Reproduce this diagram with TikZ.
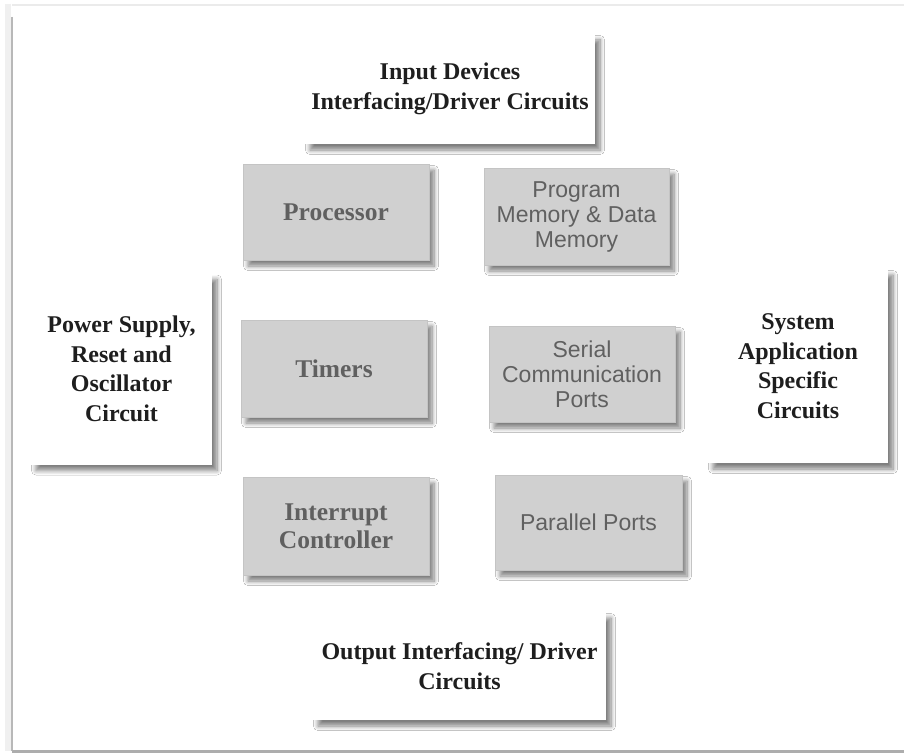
\documentclass[tikz,border=0pt]{standalone}
\usepackage{fontspec}
\setmainfont{Liberation Serif}
\setsansfont{Liberation Sans}
\usetikzlibrary{shadows.blur}
\definecolor{boxgray}{HTML}{D0D0D0}
\definecolor{txtgray}{HTML}{606060}
\definecolor{txtblack}{HTML}{1E1E1E}
\tikzset{
  shad/.style={blur shadow={shadow xshift=5pt,shadow yshift=-6pt,shadow blur steps=8,shadow blur radius=4.5pt,shadow opacity=50}},
  wbox/.style={shad,fill=white,draw=none,align=center,inner sep=0pt,
    font=\fontsize{24}{29.5}\selectfont\bfseries,text=txtblack},
  gbox/.style={shad,fill=boxgray,draw=boxgray!85!gray,line width=0.5pt,align=center,inner sep=0pt,
    font=\fontsize{25.5}{28}\selectfont\bfseries,text=txtgray},
  gsbox/.style={gbox,font=\fontsize{23}{25}\selectfont\sffamily}
}
\begin{document}
\begin{tikzpicture}[x=1pt,y=-1pt]
\useasboundingbox (0,0) rectangle (904,754);
\fill[white] (0,0) rectangle (904,754);
% outer frame
\draw[line width=6pt,black!6] (8,4) -- (8,751);
\draw[line width=2pt,black!28] (12,17) -- (12,751);
\draw[line width=2pt,black!8] (12,5) -- (904,5);
\draw[line width=3pt,black!32] (12,751.5) -- (904,751.5);
% nodes
\node[wbox,minimum width=290,minimum height=110] (inp) at (450,89) {Input Devices\\Interfacing/Driver Circuits};
\node[gbox,minimum width=186,minimum height=96] (proc) at (336,212) {Processor};
\node[gsbox,minimum width=185,minimum height=97] (prog) at (576.5,216.5) {Program\\Memory \& Data\\Memory};
\node[wbox,minimum width=181,minimum height=191] (pow) at (121.5,369) {Power Supply,\\Reset and\\Oscillator\\Circuit};
\node[gbox,minimum width=186,minimum height=97] (tim) at (334,368.5) {Timers};
\node[gsbox,minimum width=186,minimum height=96] (ser) at (582,374) {Serial\\Communication\\Ports};
\node[wbox,minimum width=180,minimum height=194] (sys) at (798,366) {System\\Application\\Specific\\Circuits};
\node[gbox,minimum width=186,minimum height=98] (intr) at (336,526) {Interrupt\\Controller};
\node[gsbox,minimum width=187,minimum height=95] (par) at (588.5,522.5) {Parallel Ports};
\node[wbox,minimum width=293,minimum height=108] (out) at (459.5,666) {Output Interfacing/ Driver\\Circuits};
\end{tikzpicture}
\end{document}
